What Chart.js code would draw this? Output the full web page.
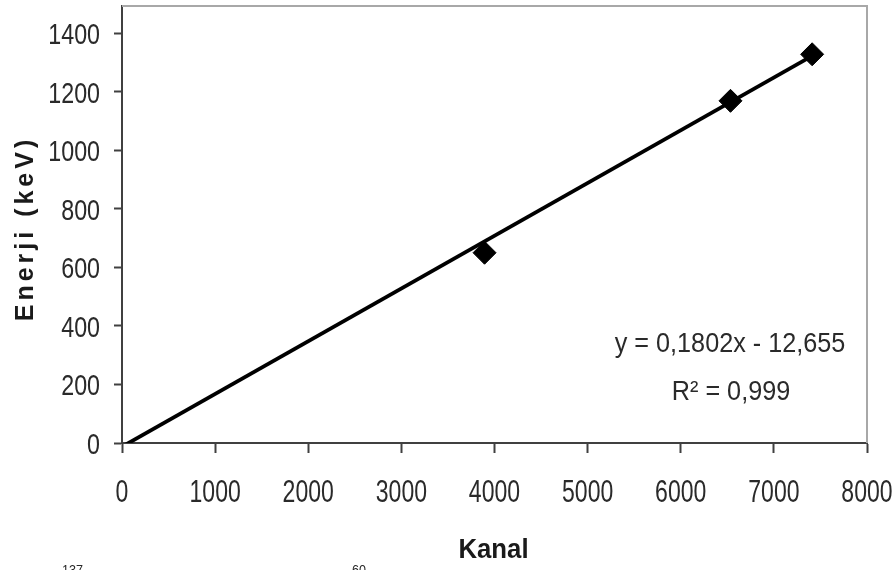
<!DOCTYPE html>
<html>
<head>
<meta charset="utf-8">
<script src="https://cdn.jsdelivr.net/npm/chart.js@4.4.1/dist/chart.umd.min.js"></script>
<style>
html,body{margin:0;padding:0;background:#fff;}
#wrap{position:relative;width:896px;height:570px;}
</style>
</head>
<body>
<div id="wrap"><canvas id="c" width="896" height="570"></canvas></div>
<script>
// ---- data ----
const kanal = [3893, 6534, 7411];          // channel (x)
const enerji = [650, 1169, 1328];          // energy keV (y)
const xTicks = [0, 1000, 2000, 3000, 4000, 5000, 6000, 7000, 8000];
const yTicks = [0, 200, 400, 600, 800, 1000, 1200, 1400];
const fitSlope = 0.1802;
const fitIntercept = -12.655;
const fitFrom = 0;
const eqText = "y = 0,1802x - 12,655";
const r2Text = "R\u00B2 = 0,999";
const xTitle = "Kanal";
const yTitle = "Enerji (keV)";
const captionBits = [["137", 62], ["60", 352]];

const SANS = '"Liberation Sans", Arial, sans-serif';

const points = kanal.map((k, i) => ({x: k, y: enerji[i]}));
const fitTo = kanal[kanal.length - 1];
const trend = [fitFrom, fitTo].map(v => ({x: v, y: fitSlope * v + fitIntercept}));

function squeezedText(ctx, text, x, y, sx, align, baseline) {
  ctx.save();
  ctx.translate(x, y);
  ctx.scale(sx, 1);
  ctx.textAlign = align;
  ctx.textBaseline = baseline;
  ctx.fillText(text, 0, 0);
  ctx.restore();
}

const annot = {
  id: 'annot',
  beforeDatasetsDraw(chart) {
    const {ctx, chartArea: a} = chart;
    ctx.save();
    ctx.strokeStyle = '#a8a8a8';
    ctx.lineWidth = 2;
    ctx.beginPath();
    ctx.moveTo(a.left, a.top);
    ctx.lineTo(a.right, a.top);
    ctx.lineTo(a.right, a.bottom);
    ctx.stroke();
    ctx.restore();
  },
  afterDraw(chart) {
    const {ctx, chartArea: a, scales: {x, y}} = chart;
    ctx.save();
    // tick labels (condensed)
    ctx.fillStyle = '#2a2a2a';
    ctx.font = '30px ' + SANS;
    yTicks.forEach(v => squeezedText(ctx, String(v), 100, y.getPixelForValue(v) + 11, 0.775, 'right', 'alphabetic'));
    ctx.font = '32px ' + SANS;
    xTicks.forEach(v => squeezedText(ctx, String(v), x.getPixelForValue(v), 502, 0.72, 'center', 'alphabetic'));
    // axis titles
    ctx.fillStyle = '#1a1a1a';
    ctx.font = 'bold 28px ' + SANS;
    squeezedText(ctx, xTitle, (a.left + a.right) / 2 - 1, 558, 0.92, 'center', 'alphabetic');
    ctx.save();
    ctx.translate(33, (a.top + a.bottom) / 2 + 4);
    ctx.rotate(-Math.PI / 2);
    ctx.font = 'bold 25px ' + SANS;
    ctx.letterSpacing = '4px';
    ctx.textAlign = 'center';
    ctx.textBaseline = 'alphabetic';
    ctx.fillText(yTitle, 0, 0);
    ctx.restore();
    // equation
    ctx.fillStyle = '#2a2a2a';
    ctx.font = '28px ' + SANS;
    squeezedText(ctx, eqText, 730, 352, 0.9, 'center', 'alphabetic');
    squeezedText(ctx, r2Text, 731, 400, 0.9, 'center', 'alphabetic');
    // cut-off caption superscripts
    ctx.font = '14px ' + SANS;
    captionBits.forEach(([t, px]) => squeezedText(ctx, t, px, 564, 0.9, 'left', 'top'));
    ctx.restore();
  }
};

new Chart(document.getElementById('c'), {
  type: 'scatter',
  data: {
    datasets: [
      {
        data: trend,
        showLine: true,
        borderColor: '#000',
        borderWidth: 3.8,
        pointRadius: 0,
        clip: 0
      },
      {
        data: points,
        pointStyle: 'rectRot',
        pointRadius: 11.5,
        backgroundColor: '#000',
        borderColor: '#000',
        borderWidth: 1
      }
    ]
  },
  options: {
    responsive: false,
    animation: false,
    devicePixelRatio: 1,
    layout: {autoPadding: false, padding: {left: 0, right: 29, top: 6, bottom: 0}},
    plugins: {legend: {display: false}, tooltip: {enabled: false}},
    scales: {
      x: {
        type: 'linear',
        min: 0, max: 8000,
        afterFit(s) { s.height = 127; s.paddingLeft = 0; s.paddingRight = 0; },
        afterBuildTicks(s) { s.ticks = xTicks.map(v => ({value: v})); },
        grid: {display: true, drawOnChartArea: false, drawTicks: true, tickLength: 10, tickWidth: 2, tickColor: '#404040'},
        border: {display: true, color: '#404040', width: 2},
        ticks: {display: false}
      },
      y: {
        type: 'linear',
        min: 0, max: 1493,
        afterFit(s) { s.width = 122; s.paddingTop = 0; s.paddingBottom = 0; },
        afterBuildTicks(s) { s.ticks = yTicks.map(v => ({value: v})); },
        grid: {display: true, drawOnChartArea: false, drawTicks: true, tickLength: 8, tickWidth: 2, tickColor: '#404040'},
        border: {display: true, color: '#404040', width: 2},
        ticks: {display: false}
      }
    }
  },
  plugins: [annot]
});
</script>
</body>
</html>
